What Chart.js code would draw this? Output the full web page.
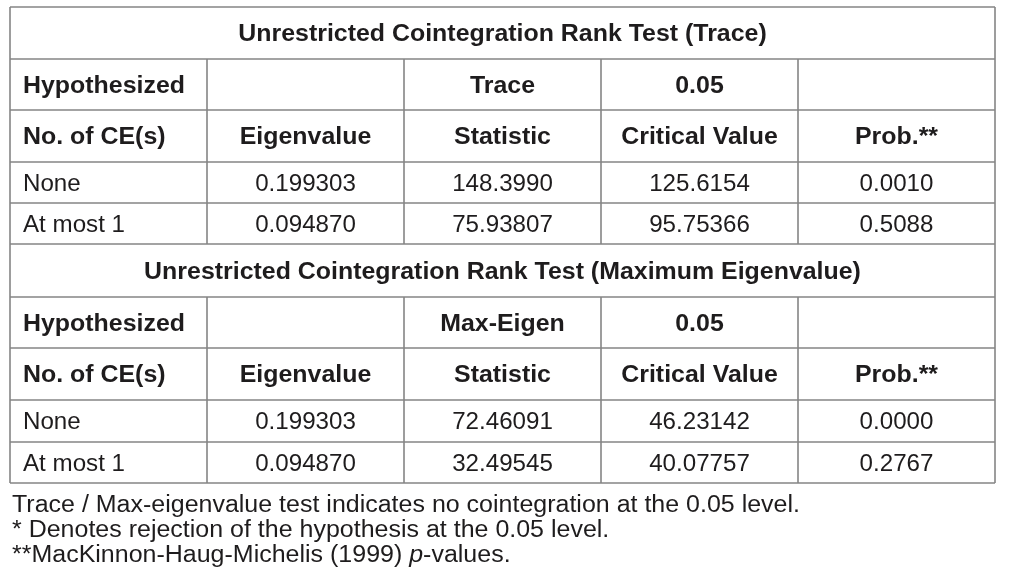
<!DOCTYPE html>
<html>
<head>
<meta charset="utf-8">
<script src="https://cdn.jsdelivr.net/npm/chart.js@4/dist/chart.umd.min.js"></script>
<style>
  body { margin: 0; background: #fff; }
  #wrap { width: 1013px; height: 582px; }
</style>
</head>
<body>
<div id="wrap"><canvas id="tableChart" width="1013" height="582"></canvas></div>
<script>
// table content
var traceTitle = 'Unrestricted Cointegration Rank Test (Trace)';
var maxTitle = 'Unrestricted Cointegration Rank Test (Maximum Eigenvalue)';
var traceHead1 = ['Hypothesized', '', 'Trace', '0.05', ''];
var maxHead1 = ['Hypothesized', '', 'Max-Eigen', '0.05', ''];
var head2 = ['No. of CE(s)', 'Eigenvalue', 'Statistic', 'Critical Value', 'Prob.**'];
var hypotheses = ['None', 'At most 1'];
var eigenvalues = ['0.199303', '0.094870'];
var traceStats = ['148.3990', '75.93807'];
var traceCrit = ['125.6154', '95.75366'];
var traceProb = ['0.0010', '0.5088'];
var maxStats = ['72.46091', '32.49545'];
var maxCrit = ['46.23142', '40.07757'];
var maxProb = ['0.0000', '0.2767'];
var notes = [
    'Trace / Max-eigenvalue test indicates no cointegration at the 0.05 level.',
    '* Denotes rejection of the hypothesis at the 0.05 level.',
    ['**MacKinnon-Haug-Michelis (1999) ', 'p', '-values.']
];

// layout (row heights in px units of the y scale)
var rowHeights = [52, 51, 52, 41, 41, 53, 51, 52, 42, 41];
var nCols = 5;

function buildRows() {
    var rows = [];
    rows.push({ title: traceTitle });
    rows.push({ cells: traceHead1, bold: true });
    rows.push({ cells: head2, bold: true });
    for (var i = 0; i < hypotheses.length; i++) {
        rows.push({ cells: [hypotheses[i], eigenvalues[i], traceStats[i], traceCrit[i], traceProb[i]] });
    }
    rows.push({ title: maxTitle });
    rows.push({ cells: maxHead1, bold: true });
    rows.push({ cells: head2, bold: true });
    for (var j = 0; j < hypotheses.length; j++) {
        rows.push({ cells: [hypotheses[j], eigenvalues[j], maxStats[j], maxCrit[j], maxProb[j]] });
    }
    return rows;
}

var rowEdges = [0];
rowHeights.forEach(function(h) { rowEdges.push(rowEdges[rowEdges.length - 1] + h); });

function drawText(ctx, text, x, y, align, sx) {
    ctx.save();
    ctx.translate(x, y);
    ctx.scale(sx, 1);
    ctx.textAlign = align;
    ctx.fillText(text, 0, 0);
    ctx.restore();
}

var tablePlugin = {
    id: 'tablePlugin',
    afterDraw: function(chart) {
        var ctx = chart.ctx;
        var xs = chart.scales.x;
        var ys = chart.scales.y;
        var rows = buildRows();
        var fontFam = '"Liberation Sans", Arial, sans-serif';
        var boldFont = 'bold 23px ' + fontFam;
        var regFont = '23px ' + fontFam;

        // horizontal stretch so the widths match the original print
        ctx.font = boldFont;
        var sxBold = 162 / ctx.measureText('Hypothesized').width;
        var sxReg = 1.05;

        // grid lines
        ctx.save();
        ctx.strokeStyle = '#858585';
        ctx.lineWidth = 1.6;
        rowEdges.forEach(function(e) {
            var y = ys.getPixelForValue(e);
            ctx.beginPath();
            ctx.moveTo(xs.getPixelForValue(0), y);
            ctx.lineTo(xs.getPixelForValue(nCols), y);
            ctx.stroke();
        });
        rows.forEach(function(r, i) {
            var y0 = ys.getPixelForValue(rowEdges[i]);
            var y1 = ys.getPixelForValue(rowEdges[i + 1]);
            for (var c = 0; c <= nCols; c++) {
                if (r.title && c > 0 && c < nCols) continue;
                var x = xs.getPixelForValue(c);
                ctx.beginPath();
                ctx.moveTo(x, y0);
                ctx.lineTo(x, y1);
                ctx.stroke();
            }
        });
        ctx.restore();

        // cell texts
        ctx.save();
        ctx.fillStyle = '#1e1c1d';
        ctx.textBaseline = 'alphabetic';
        rows.forEach(function(r, i) {
            var yc = (ys.getPixelForValue(rowEdges[i]) + ys.getPixelForValue(rowEdges[i + 1])) / 2;
            var yb = yc + 8;
            if (r.title) {
                ctx.font = boldFont;
                drawText(ctx, r.title, xs.getPixelForValue(nCols / 2), yb, 'center', sxBold);
                return;
            }
            ctx.font = r.bold ? boldFont : regFont;
            var sx = r.bold ? sxBold : sxReg;
            r.cells.forEach(function(t, c) {
                if (!t) return;
                if (c === 0) {
                    drawText(ctx, t, xs.getPixelForValue(0) + 13, yb, 'left', sx);
                } else {
                    drawText(ctx, t, xs.getPixelForValue(c + 0.5), yb, 'center', sx);
                }
            });
        });

        // footnotes
        var noteFont = '23px ' + fontFam;
        ctx.font = noteFont;
        var nsx = 788 / ctx.measureText(notes[0]).width;
        var left = 12;
        var base = ys.getPixelForValue(rowEdges[rowEdges.length - 1]) + 29;
        drawText(ctx, notes[0], left, base, 'left', nsx);
        drawText(ctx, notes[1], left, base + 25, 'left', nsx);
        var x = left;
        notes[2].forEach(function(p, k) {
            ctx.font = (k === 1 ? 'italic ' : '') + noteFont;
            drawText(ctx, p, x, base + 50, 'left', nsx);
            x += ctx.measureText(p).width * nsx;
        });
        ctx.restore();
    }
};

window.onload = function() {
    var ctx = document.getElementById('tableChart').getContext('2d');
    new Chart(ctx, {
        type: 'scatter',
        data: { datasets: [] },
        options: {
            responsive: false,
            animation: false,
            layout: { padding: { left: 10, right: 18, top: 7, bottom: 99 } },
            plugins: { legend: { display: false }, tooltip: { enabled: false } },
            scales: {
                x: { type: 'linear', min: 0, max: nCols, display: false },
                y: { type: 'linear', min: 0, max: rowEdges[rowEdges.length - 1], reverse: true, display: false }
            }
        },
        plugins: [tablePlugin]
    });
};
</script>
</body>
</html>
